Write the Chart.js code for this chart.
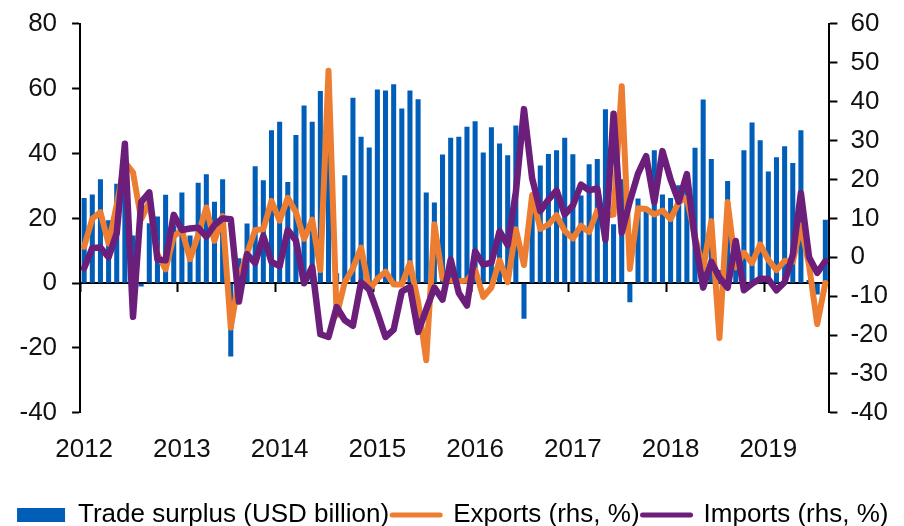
<!DOCTYPE html>
<html>
<head>
<meta charset="utf-8">
<script src="https://cdn.jsdelivr.net/npm/chart.js@4.4.0/dist/chart.umd.min.js"></script>
<style>
    html, body { margin: 0; padding: 0; background: #fff; }
    #wrap { width: 904px; height: 526px; }
</style>
</head>
<body>
<div id="wrap"><canvas id="myChartTrade"></canvas></div>
<script>
// monthly data, Aug 2012 - Mar 2020
const startYear = 2012;
const startMonth = 8;
const yearLabels = ['2012', '2013', '2014', '2015', '2016', '2017', '2018', '2019'];

const tradeSurplus = [
    26.3, 27.4, 32.1, 19.4, 30.7, 29.0, 14.7, -1.0, 18.5, 20.6, 27.3, 17.8,
    28.0, 14.7, 31.0, 33.6, 25.1, 32.1, -22.6, 7.7, 18.4, 36.1, 31.8, 47.2,
    49.8, 31.2, 45.7, 54.8, 49.8, 59.3, 60.6, 3.1, 33.3, 57.2, 45.2, 41.9,
    59.8, 59.5, 61.4, 53.9, 59.5, 56.8, 28.0, 24.9, 39.7, 44.9, 45.2, 48.3,
    50.0, 40.3, 48.1, 43.1, 39.5, 48.7, -11.0, 23.9, 36.3, 39.9, 41.0, 44.9,
    39.8, 27.1, 36.7, 38.3, 53.7, 18.2, 32.1, -5.9, 26.1, 23.5, 41.0, 27.4,
    26.3, 30.2, 33.0, 41.8, 56.7, 38.3, 4.1, 31.5, 13.5, 41.0, 49.6, 44.1,
    34.5, 38.9, 42.3, 37.1, 47.2, 1.0, -3.5, 19.6
];
const exportsYoY = [
    2.7, 9.9, 11.6, 3.5, 13.5, 24.5, 21.8, 9.8, 14.2, 0.8, -3.1, 5.4,
    7.0, -0.5, 5.8, 12.8, 4.2, 10.6, -18.1, -5.5, 1.0, 7.0, 7.2, 14.5,
    9.4, 15.3, 11.6, 4.7, 9.7, -3.3, 48.0, -15.0, -6.4, -2.8, 2.5, -8.4,
    -5.5, -3.7, -7.0, -7.0, -1.5, -11.5, -26.5, 8.5, -5.5, -6.0, -6.2, -6.0,
    -3.2, -10.2, -7.8, -0.8, -6.4, 7.2, -2.0, 16.0, 7.3, 8.4, 10.8, 6.8,
    4.8, 8.1, 6.5, 12.0, 10.7, 11.0, 44.0, -3.0, 12.6, 12.4, 11.0, 12.0,
    9.8, 14.2, 15.3, 5.2, -3.0, 9.3, -20.8, 14.2, -2.6, 1.2, -1.5, 3.3,
    -0.7, -3.3, -0.9, -1.2, 8.2, -2.0, -17.2, -6.6
];
const importsYoY = [
    -2.8, 2.4, 2.5, 0.0, 6.2, 29.2, -15.3, 14.2, 16.7, -0.6, -0.8, 10.9,
    7.0, 7.4, 7.6, 5.3, 8.3, 10.0, 9.8, -11.4, 0.8, -1.5, 5.5, -1.2,
    -2.3, 7.0, 4.3, -6.7, -2.5, -19.8, -20.5, -12.8, -16.2, -17.6, -6.4, -8.3,
    -14.2, -20.5, -18.6, -8.8, -7.6, -19.2, -13.4, -7.8, -10.9, -0.6, -9.2, -12.4,
    1.5, -1.9, -1.4, 6.7, 3.1, 16.7, 38.1, 20.3, 11.9, 14.8, 17.2, 11.0,
    13.3, 18.7, 17.2, 17.7, 4.5, 36.9, 6.3, 14.4, 21.5, 26.0, 14.1, 27.3,
    20.0, 14.3, 21.4, 4.5, -7.8, -1.2, -5.2, -7.8, 4.2, -8.5, -6.8, -5.5,
    -5.6, -8.5, -6.4, 0.6, 16.5, 0.0, -4.0, -1.0
];

let months = [];
for (let i = 0; i < tradeSurplus.length; i++) {
    let m = startMonth - 1 + i;
    months.push((startYear + Math.floor(m / 12)) + '-' + String(m % 12 + 1).padStart(2, '0'));
}

Chart.defaults.font.family = "'Liberation Sans', Arial, sans-serif";
Chart.defaults.font.size = 26;
Chart.defaults.color = '#111';

const axisGrid = {
    drawOnChartArea: false,
    drawTicks: true,
    tickLength: 8,
    tickWidth: 2,
    tickColor: '#000'
};

function setupTradeChart(ctx) {
    const _ctx = document.getElementById(ctx);
    const config = {
        type: 'bar',
        data: {
            labels: months,
            datasets: [{
                type: 'bar',
                label: 'Trade surplus (USD billion)',
                data: tradeSurplus,
                backgroundColor: '#005eb8',
                borderWidth: 0,
                barPercentage: 0.62,
                categoryPercentage: 1,
                yAxisID: 'y',
                order: 3
            }, {
                type: 'line',
                label: 'Exports (rhs, %)',
                data: exportsYoY,
                borderColor: '#ed7d31',
                backgroundColor: '#ed7d31',
                borderWidth: 6,
                pointRadius: 0,
                tension: 0,
                borderJoinStyle: 'round',
                borderCapStyle: 'round',
                yAxisID: 'y1',
                order: 2
            }, {
                type: 'line',
                label: 'Imports (rhs, %)',
                data: importsYoY,
                borderColor: '#6b1f7b',
                backgroundColor: '#6b1f7b',
                borderWidth: 6.5,
                pointRadius: 0,
                tension: 0,
                borderJoinStyle: 'round',
                borderCapStyle: 'round',
                yAxisID: 'y1',
                order: 1
            }]
        },
        options: {
            responsive: true,
            maintainAspectRatio: false,
            animation: false,
            layout: { padding: { left: 4.5, right: 3, top: 0, bottom: -12 } },
            scales: {
                x: {
                    type: 'category',
                    offset: true,
                    grid: { display: false, offset: true },
                    border: { display: false },
                    ticks: {
                        autoSkip: false,
                        maxRotation: 0,
                        padding: 13,
                        callback: (v, i) => i % 12 === 0 ? yearLabels[i / 12] : ''
                    },
                    afterFit: scale => { scale.height += 21; }
                },
                xz: {
                    type: 'category',
                    position: { y: 0 },
                    offset: true,
                    grid: {
                        offset: true,
                        drawOnChartArea: false,
                        drawTicks: true,
                        tickLength: 8,
                        tickWidth: 2,
                        tickColor: c => c.index % 12 === 0 ? '#000' : 'rgba(0,0,0,0)'
                    },
                    border: { display: true, color: '#000', width: 2 },
                    ticks: { display: false }
                },
                y: {
                    position: 'left',
                    min: -40,
                    max: 80,
                    ticks: { stepSize: 20, padding: 15, font: { lineHeight: 0.69 } },
                    grid: axisGrid,
                    border: { color: '#000', width: 2 }
                },
                y1: {
                    position: 'right',
                    min: -40,
                    max: 60,
                    ticks: { stepSize: 10, padding: 13, font: { lineHeight: 0.69 } },
                    grid: axisGrid,
                    border: { color: '#000', width: 2 }
                }
            },
            plugins: {
                tooltip: { enabled: false },
                legend: {
                    position: 'bottom',
                    labels: {
                        usePointStyle: true,
                        pointStyleWidth: 48,
                        boxHeight: 14,
                        padding: 3,
                        generateLabels: chart => chart.data.datasets.map((ds, i) => ({
                            text: ds.label,
                            fillStyle: ds.backgroundColor,
                            strokeStyle: ds.type === 'line' ? ds.borderColor : ds.backgroundColor,
                            lineWidth: ds.type === 'line' ? 5 : 0,
                            lineCap: 'round',
                            pointStyle: ds.type === 'line' ? 'line' : 'rect',
                            hidden: false,
                            datasetIndex: i
                        }))
                    }
                }
            }
        }
    };
    return new Chart(_ctx, config);
}

var myChartTrade = setupTradeChart('myChartTrade');
</script>
</body>
</html>
